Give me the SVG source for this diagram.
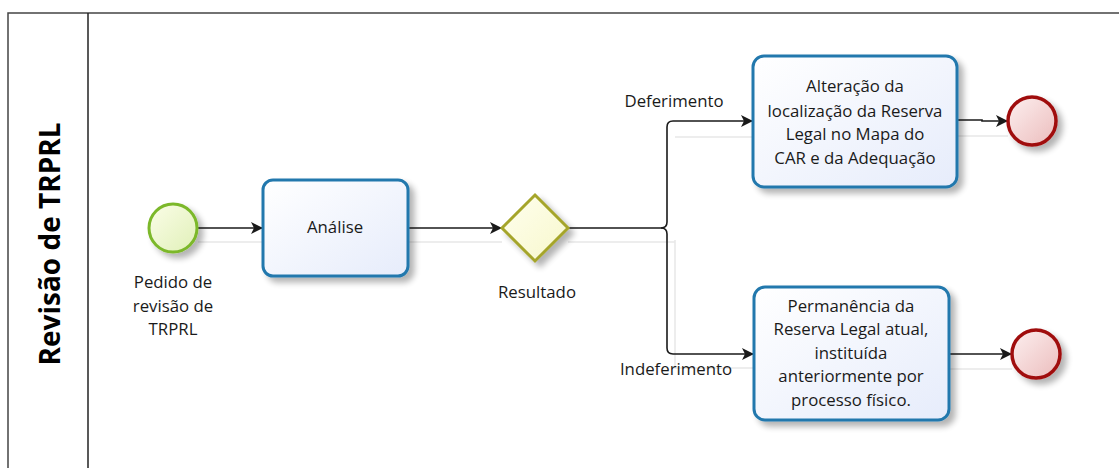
<svg xmlns="http://www.w3.org/2000/svg" width="1119" height="468" viewBox="0 0 1119 468">
<style>
  text { font-family: "Open Sans", "DejaVu Sans", sans-serif; font-size: 16.8px; fill: #1a1a1a; }
  .title { font-size: 28px; font-weight: bold; fill: #000; }
  .task { stroke: #2278ad; stroke-width: 3; fill: url(#taskFill); filter: url(#shadow); }
  .edge { fill: none; stroke: #1a1a1a; stroke-width: 1.6; }
  .edgeShadow { fill: none; stroke: #e8e8e8; stroke-width: 1.5; }
  .mid { text-anchor: middle; }
</style>
<defs>
  <linearGradient id="taskFill" x1="0" y1="0" x2="1" y2="1">
    <stop offset="0" stop-color="#ffffff"/>
    <stop offset="1" stop-color="#e6ecfb"/>
  </linearGradient>
  <linearGradient id="startFill" x1="0" y1="0" x2="1" y2="1">
    <stop offset="0" stop-color="#fbfde8"/>
    <stop offset="1" stop-color="#e0f0b8"/>
  </linearGradient>
  <linearGradient id="endFill" x1="0" y1="0" x2="1" y2="1">
    <stop offset="0" stop-color="#fdf0f0"/>
    <stop offset="1" stop-color="#ebbcbc"/>
  </linearGradient>
  <linearGradient id="gwFill" x1="0" y1="0" x2="1" y2="1">
    <stop offset="0" stop-color="#ffffee"/>
    <stop offset="1" stop-color="#f7f7cc"/>
  </linearGradient>
  <filter id="shadow" x="-20%" y="-20%" width="150%" height="150%">
    <feGaussianBlur in="SourceAlpha" stdDeviation="3"/>
    <feOffset dx="5" dy="5" result="b"/>
    <feComponentTransfer><feFuncA type="linear" slope="0.3"/></feComponentTransfer>
    <feMerge><feMergeNode/><feMergeNode in="SourceGraphic"/></feMerge>
  </filter>
  <marker id="arrow" viewBox="0 0 12 12" refX="11" refY="6" markerWidth="12" markerHeight="12" markerUnits="userSpaceOnUse" orient="auto">
    <path d="M0,0 L12,6 L0,12 L3,6 Z" fill="#1a1a1a"/>
  </marker>
</defs>

<g id="pool">
  <rect x="8" y="13" width="1130" height="470" fill="#ffffff" stroke="#444" stroke-width="1.5"/>
  <line x1="88" y1="13" x2="88" y2="468" stroke="#222" stroke-width="1.5"/>
  <text class="title mid" transform="translate(60,244) rotate(-90)">Revisão de TRPRL</text>
</g>

<g id="connectors">
  <path class="edgeShadow" d="M198,242 H263 M408,242 H502 M568,242 H675 V240 M675,137 H753 M675,240 V368 H753 M957,136 H1008 M949,369 H1012"/>
  <path class="edge" d="M198,228 H262" marker-end="url(#arrow)"/>
  <path class="edge" d="M408,228 H501" marker-end="url(#arrow)"/>
  <path class="edge" d="M568,228 H661 Q667,228 667,222 V127 Q667,121 673,121 H752" marker-end="url(#arrow)"/>
  <path class="edge" d="M661,228 Q667,228 667,234 V348 Q667,354 673,354 H753" marker-end="url(#arrow)"/>
  <path class="edge" d="M957,120 H982 V121 H1007" marker-end="url(#arrow)"/>
  <path class="edge" d="M949,354 H1011" marker-end="url(#arrow)"/>
  <text x="674" y="107" class="mid">Deferimento</text>
  <text x="676" y="375" class="mid">Indeferimento</text>
</g>

<g id="start">
  <circle cx="173" cy="228" r="24" fill="url(#startFill)" stroke="#7cb82a" stroke-width="3" filter="url(#shadow)"/>
  <text x="173" y="288" class="mid">Pedido de</text>
  <text x="173" y="312" class="mid">revisão de</text>
  <text x="173" y="335" class="mid">TRPRL</text>
</g>

<g id="analise">
  <rect class="task" x="263" y="180" width="145" height="96" rx="10"/>
  <text x="335" y="233" class="mid">Análise</text>
</g>

<g id="gateway">
  <polygon points="535,195 568,228 535,261 502,228" fill="url(#gwFill)" stroke="#a5a52c" stroke-width="3" filter="url(#shadow)"/>
  <text x="537" y="298" class="mid">Resultado</text>
</g>

<g id="alteracao">
  <rect class="task" x="753" y="56" width="204" height="131" rx="11"/>
  <text x="855" y="92" class="mid">Alteração da</text>
  <text x="855" y="117" class="mid">localização da Reserva</text>
  <text x="855" y="140" class="mid">Legal no Mapa do</text>
  <text x="855" y="164" class="mid">CAR e da Adequação</text>
</g>

<g id="permanencia">
  <rect class="task" x="754" y="287" width="195" height="133" rx="11"/>
  <text x="851" y="312" class="mid">Permanência da</text>
  <text x="851" y="335" class="mid">Reserva Legal atual,</text>
  <text x="851" y="359" class="mid">instituída</text>
  <text x="851" y="382" class="mid">anteriormente por</text>
  <text x="851" y="406" class="mid">processo físico.</text>
</g>

<g id="end1">
  <circle cx="1032" cy="121" r="24" fill="url(#endFill)" stroke="#a01010" stroke-width="3.5" filter="url(#shadow)"/>
</g>
<g id="end2">
  <circle cx="1036" cy="354" r="24" fill="url(#endFill)" stroke="#a01010" stroke-width="3.5" filter="url(#shadow)"/>
</g>
</svg>
